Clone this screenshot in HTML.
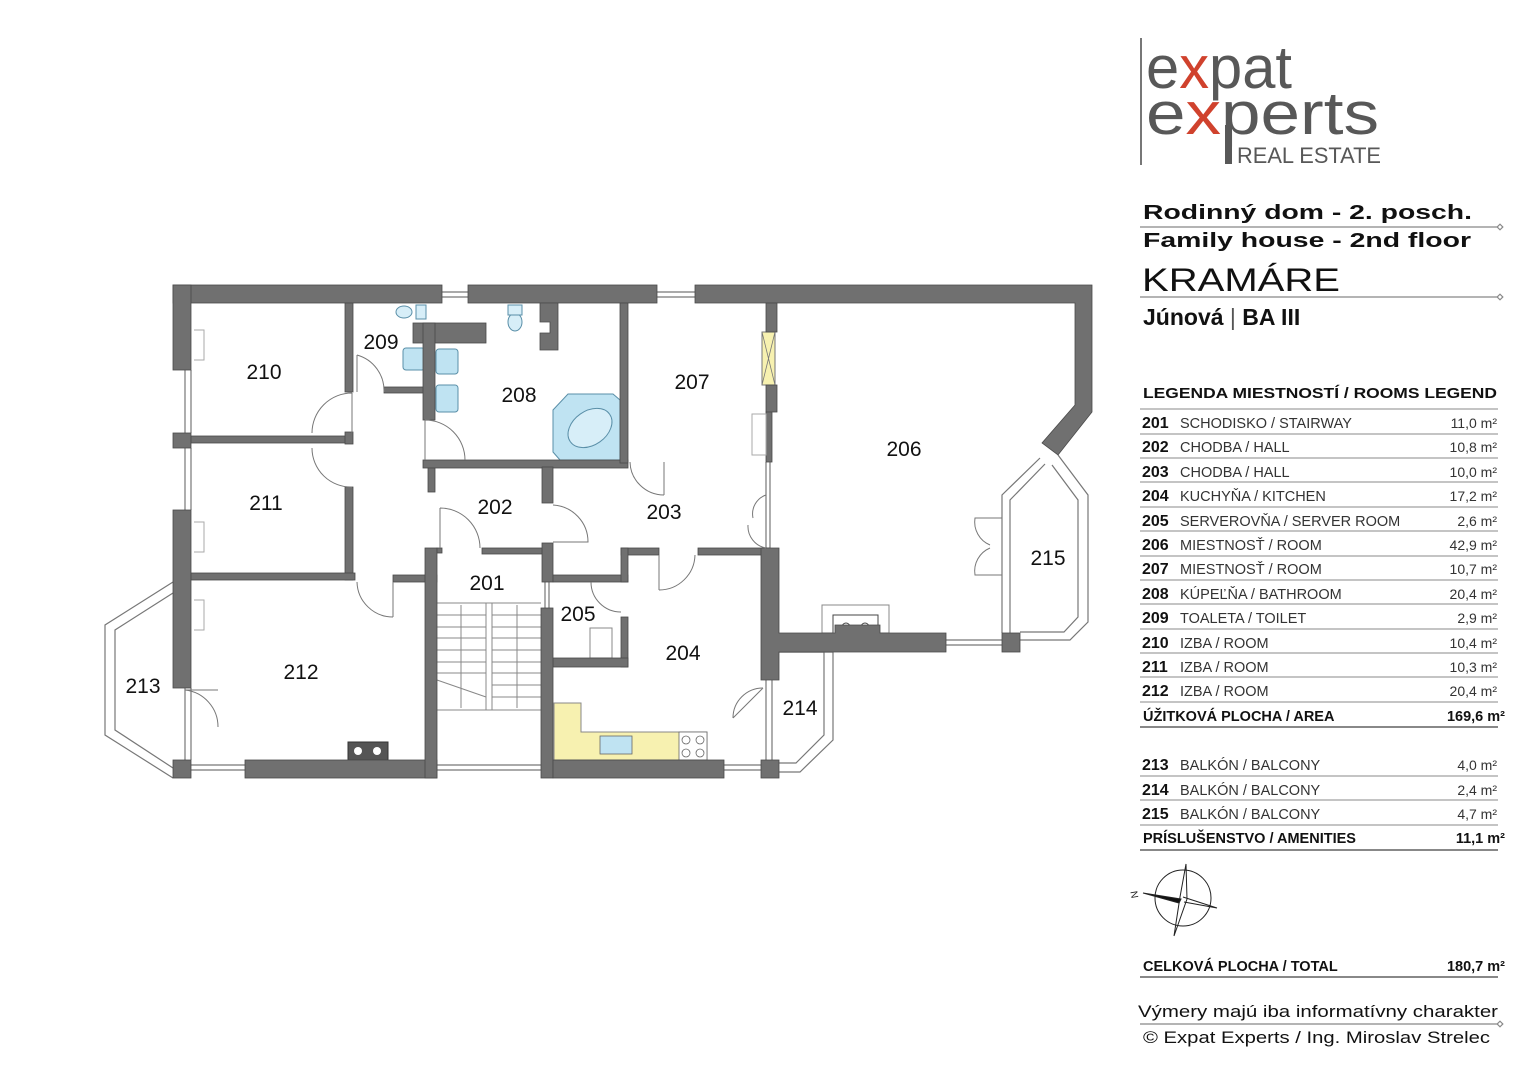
<!DOCTYPE html>
<html><head><meta charset="utf-8"><style>
html,body{margin:0;padding:0;background:#fff}
svg{display:block}
text{font-family:"Liberation Sans",sans-serif}
</style></head><body>
<svg width="1529" height="1080" viewBox="0 0 1529 1080" xmlns="http://www.w3.org/2000/svg">
<rect width="1529" height="1080" fill="#fff"/>

<g fill="none" stroke="#777" stroke-width="1.2">
<path d="M173,582 L105,625 L105,735 L173,778"/>
<path d="M173,593 L115,630 L115,730 L173,768"/>
<path d="M779,652 L833,652 L833,740 L800,772 L779,772"/>
<path d="M779,652 L824,652 L824,735 L796,763 L779,763"/>
<path d="M1020,640 L1070,640 L1088,622 L1088,495 L1058,455"/>
<path d="M1020,632 L1064,632 L1078,617 L1078,500 L1052,465"/>
<path d="M1002,633 L1002,495 L1040,458"/>
<path d="M1010,633 L1010,500 L1045,464"/>
<path d="M191,370 L191,433 M185,370 L185,433 M191,448 L191,510 M185,448 L185,510 M191,688 L191,760 M185,688 L185,760"/>
<path d="M442,292 L468,292 M442,297 L468,297 M657,292 L695,292 M657,297 L695,297"/>
<path d="M191,765 L245,765 M191,770 L245,770 M437,765 L541,765 M437,770 L541,770 M724,765 L761,765 M724,770 L761,770"/>
<path d="M946,640 L1002,640 M946,645 L1002,645"/>
<path d="M545,582 L545,608 M549,582 L549,608"/>
<path d="M766,462 L766,548 M770,462 L770,548 M766,680 L766,760 M772,680 L772,760"/>
</g>

<path d="M554,703 L581,703 L581,732 L707,732 L707,760 L554,760 Z" fill="#f7f1b0" stroke="#888" stroke-width="1"/>
<rect x="600" y="736" width="32" height="18" fill="#bfe3f2" stroke="#666" stroke-width="0.8"/>
<rect x="679" y="732" width="28" height="28" fill="#fff" stroke="#666" stroke-width="0.8"/>
<circle cx="686" cy="740" r="4" fill="none" stroke="#666" stroke-width="0.8"/><circle cx="700" cy="740" r="4" fill="none" stroke="#666" stroke-width="0.8"/>
<circle cx="686" cy="753" r="4" fill="none" stroke="#666" stroke-width="0.8"/><circle cx="700" cy="753" r="4" fill="none" stroke="#666" stroke-width="0.8"/>

<rect x="762" y="332" width="13" height="53" fill="#f7f1b0" stroke="#777" stroke-width="1"/>
<path d="M762,332 L775,385 M775,332 L762,385" stroke="#777" stroke-width="0.8"/>

<path d="M568,394 L613,394 L620,400 L620,460 L560,460 L553,452 L553,410 Z" fill="#bfe3f2" stroke="#5a8fa8" stroke-width="1"/>
<ellipse cx="590" cy="428" rx="24" ry="17" fill="#d7eef8" stroke="#5a8fa8" stroke-width="1" transform="rotate(-35 590 428)"/>
<rect x="403" y="348" width="22" height="22" rx="3" fill="#bfe3f2" stroke="#5a8fa8"/>
<rect x="436" y="349" width="22" height="25" rx="3" fill="#bfe3f2" stroke="#5a8fa8"/>
<rect x="436" y="385" width="22" height="27" rx="3" fill="#bfe3f2" stroke="#5a8fa8"/>
<ellipse cx="404" cy="312" rx="8" ry="6" fill="#d7eef8" stroke="#5a8fa8"/>
<rect x="416" y="305" width="10" height="14" fill="#d7eef8" stroke="#5a8fa8"/>
<ellipse cx="515" cy="322" rx="7" ry="9" fill="#d7eef8" stroke="#5a8fa8"/>
<rect x="508" y="305" width="14" height="10" fill="#d7eef8" stroke="#5a8fa8"/>

<rect x="822" y="605" width="67" height="28" fill="none" stroke="#888"/>
<rect x="833" y="615" width="45" height="25" fill="#fff" stroke="#444"/>
<circle cx="846" cy="627" r="4" fill="none" stroke="#444"/><circle cx="865" cy="627" r="4" fill="none" stroke="#444"/>
<rect x="348" y="742" width="40" height="18" fill="#555" stroke="#333"/>
<circle cx="358" cy="751" r="4" fill="#fff"/><circle cx="377" cy="751" r="4" fill="#fff"/>
<rect x="590" y="628" width="22" height="30" fill="none" stroke="#888"/>

<g stroke="#888" stroke-width="1" fill="none">
<path d="M437,603 L541,603 M437,615 L486,615 M492,615 L541,615 M437,627 L486,627 M492,627 L541,627 M437,638 L486,638 M492,638 L541,638 M437,650 L486,650 M492,650 L541,650 M437,662 L486,662 M492,662 L541,662 M437,673 L486,673 M492,673 L541,673 M492,685 L541,685 M492,697 L541,697 M437,710 L541,710"/>
<rect x="486" y="603" width="6" height="107"/>
<path d="M437,680 L486,697 M461,605 L461,708 M517,605 L517,708"/>
</g>

<g fill="#707070" stroke="#4a4a4a" stroke-width="0.8">
<rect x="173" y="285" width="269" height="18"/>
<rect x="468" y="285" width="189" height="18"/>
<path d="M695,285 L1092,285 L1092,412 L1058,455 L1042,443 L1075,405 L1075,303 L695,303 Z"/>
<rect x="173" y="285" width="18" height="85"/>
<rect x="173" y="433" width="18" height="15"/>
<rect x="173" y="510" width="18" height="178"/>
<rect x="173" y="760" width="18" height="18"/>
<rect x="245" y="760" width="192" height="18"/>
<rect x="191" y="436" width="161" height="7"/>
<rect x="345" y="303" width="8" height="89"/>
<rect x="345" y="432" width="8" height="12"/>
<rect x="345" y="487" width="8" height="93"/>
<rect x="191" y="573" width="164" height="7"/>
<rect x="393" y="575" width="44" height="7"/>
<rect x="425" y="548" width="12" height="230"/>
<rect x="384" y="387" width="41" height="6"/>
<rect x="413" y="323" width="73" height="20"/>
<rect x="423" y="323" width="12" height="97"/>
<rect x="423" y="460" width="205" height="8"/>
<rect x="428" y="468" width="7" height="24"/>
<path d="M540,303 L558,303 L558,350 L540,350 L540,333 L550,333 L550,322 L540,322 Z"/>
<rect x="620" y="303" width="8" height="160"/>
<rect x="766" y="303" width="11" height="29"/>
<rect x="766" y="385" width="11" height="27"/>
<rect x="766" y="412" width="6" height="50"/>
<rect x="542" y="467" width="11" height="36"/>
<rect x="542" y="543" width="11" height="39"/>
<rect x="437" y="548" width="5" height="5"/>
<rect x="482" y="548" width="60" height="6"/>
<rect x="621" y="548" width="38" height="7"/>
<rect x="698" y="548" width="72" height="7"/>
<rect x="553" y="575" width="75" height="7"/>
<rect x="621" y="548" width="7" height="34"/>
<rect x="621" y="617" width="7" height="50"/>
<rect x="553" y="658" width="75" height="9"/>
<rect x="541" y="608" width="12" height="170"/>
<rect x="553" y="760" width="171" height="18"/>
<rect x="761" y="760" width="18" height="18"/>
<path d="M761,548 L779,548 L779,633 L835,633 L835,625 L880,625 L880,633 L946,633 L946,652 L779,652 L779,680 L761,680 Z"/>
<rect x="1002" y="633" width="18" height="19"/>
</g>

<g fill="none" stroke="#777" stroke-width="1">
<path d="M312,433 A40,40 0 0 1 352,393 M352,393 L352,433"/>
<path d="M312,448 A39,39 0 0 0 352,487"/>
<path d="M357,355 L357,392 M357,355 A37,37 0 0 1 384,392"/>
<path d="M425,420 L425,460 M425,420 A40,40 0 0 1 465,460"/>
<path d="M393,582 L393,617 M393,617 A36,36 0 0 1 357,582"/>
<path d="M440,508 L440,548 M440,508 A40,40 0 0 1 480,548"/>
<path d="M553,505 A37,37 0 0 1 588,542 L553,542"/>
<path d="M664,462 L664,495 M664,495 A34,34 0 0 1 630,462"/>
<path d="M659,555 L659,590 M659,590 A36,36 0 0 0 695,555"/>
<path d="M591,582 A30,30 0 0 0 621,612"/>
<path d="M763,688 L733,718 M733,718 A30,30 0 0 1 763,688"/>
<path d="M185,690 L218,690 M218,727 A37,37 0 0 0 185,690"/>
<path d="M766,495 A20,20 0 0 0 753,518 M766,548 A22,22 0 0 1 748,525"/>
<path d="M1002,518 L975,518 A25,25 0 0 0 990,545 M1002,575 L975,575 A25,25 0 0 1 990,548"/>
<path d="M752,414 L766,414 L766,455 L752,455 Z M194,330 L204,330 L204,360 L194,360 M194,522 L204,522 L204,552 L194,552 M194,600 L204,600 L204,630 L194,630" stroke="#aaa"/>
</g>

<g font-size="21" fill="#111" text-anchor="middle">
<text x="264" y="379">210</text>
<text x="266" y="510">211</text>
<text x="301" y="679">212</text>
<text x="143" y="693">213</text>
<text x="381" y="349">209</text>
<text x="519" y="402">208</text>
<text x="692" y="389">207</text>
<text x="904" y="456">206</text>
<text x="495" y="514">202</text>
<text x="664" y="519">203</text>
<text x="487" y="590">201</text>
<text x="578" y="621">205</text>
<text x="683" y="660">204</text>
<text x="800" y="715">214</text>
<text x="1048" y="565">215</text>
</g>

<rect x="1140" y="38" width="2" height="127" fill="#777"/>
<text x="1146" y="88" font-size="60" fill="#585858" textLength="146" lengthAdjust="spacingAndGlyphs">e<tspan fill="#d0422d">x</tspan>pat</text>
<text x="1146" y="134" font-size="60" fill="#585858" textLength="233" lengthAdjust="spacingAndGlyphs">e<tspan fill="#d0422d">x</tspan>perts</text>
<rect x="1225" y="125" width="7" height="39" fill="#585858"/>
<text x="1237" y="163" font-size="22" fill="#585858" textLength="144" lengthAdjust="spacingAndGlyphs">REAL ESTATE</text>

<g fill="#111">
<text x="1143" y="219" font-size="20" font-weight="bold" textLength="329" lengthAdjust="spacingAndGlyphs">Rodinný dom - 2. posch.</text>
<text x="1143" y="247" font-size="20" font-weight="bold" textLength="328" lengthAdjust="spacingAndGlyphs">Family house - 2nd floor</text>
<text x="1142" y="291" font-size="32" textLength="198" lengthAdjust="spacingAndGlyphs">KRAMÁRE</text>
<text x="1143" y="325" font-size="23" font-weight="bold">Júnová <tspan font-weight="normal" fill="#555">|</tspan> BA III</text>
</g>
<g stroke="#888" stroke-width="1.2" fill="#fff">
<line x1="1140" y1="227" x2="1497" y2="227"/><rect x="1498" y="225" width="4" height="4" transform="rotate(45 1500 227)"/>
<line x1="1140" y1="297" x2="1497" y2="297"/><rect x="1498" y="295" width="4" height="4" transform="rotate(45 1500 297)"/>
<line x1="1140" y1="1024" x2="1497" y2="1024"/><rect x="1498" y="1022" width="4" height="4" transform="rotate(45 1500 1024)"/>
</g>

<g fill="#111">
<text x="1143" y="398" font-size="15" font-weight="bold" textLength="354" lengthAdjust="spacingAndGlyphs">LEGENDA MIESTNOSTÍ / ROOMS LEGEND</text>
</g>
<g font-size="16" fill="#111">
<g font-weight="bold"><text x="1142" y="428">201</text><text x="1142" y="452">202</text><text x="1142" y="477">203</text><text x="1142" y="501">204</text><text x="1142" y="526">205</text><text x="1142" y="550">206</text><text x="1142" y="574">207</text><text x="1142" y="599">208</text><text x="1142" y="623">209</text><text x="1142" y="648">210</text><text x="1142" y="672">211</text><text x="1142" y="696">212</text><text x="1142" y="770">213</text><text x="1142" y="795">214</text><text x="1142" y="819">215</text></g>
<g font-size="14.5" fill="#333">
<text x="1180" y="428">SCHODISKO / STAIRWAY</text><text x="1180" y="452">CHODBA / HALL</text><text x="1180" y="477">CHODBA / HALL</text><text x="1180" y="501">KUCHYŇA / KITCHEN</text><text x="1180" y="526">SERVEROVŇA / SERVER ROOM</text><text x="1180" y="550">MIESTNOSŤ / ROOM</text><text x="1180" y="574">MIESTNOSŤ / ROOM</text><text x="1180" y="599">KÚPEĽŇA / BATHROOM</text><text x="1180" y="623">TOALETA / TOILET</text><text x="1180" y="648">IZBA / ROOM</text><text x="1180" y="672">IZBA / ROOM</text><text x="1180" y="696">IZBA / ROOM</text><text x="1180" y="770">BALKÓN / BALCONY</text><text x="1180" y="795">BALKÓN / BALCONY</text><text x="1180" y="819">BALKÓN / BALCONY</text>
</g>
<g font-size="14" fill="#333" text-anchor="end">
<text x="1497" y="428">11,0 m²</text><text x="1497" y="452">10,8 m²</text><text x="1497" y="477">10,0 m²</text><text x="1497" y="501">17,2 m²</text><text x="1497" y="526">2,6 m²</text><text x="1497" y="550">42,9 m²</text><text x="1497" y="574">10,7 m²</text><text x="1497" y="599">20,4 m²</text><text x="1497" y="623">2,9 m²</text><text x="1497" y="648">10,4 m²</text><text x="1497" y="672">10,3 m²</text><text x="1497" y="696">20,4 m²</text><text x="1497" y="770">4,0 m²</text><text x="1497" y="795">2,4 m²</text><text x="1497" y="819">4,7 m²</text>
</g>
<g font-weight="bold" font-size="14.5">
<text x="1143" y="721">ÚŽITKOVÁ PLOCHA / AREA</text><text x="1505" y="721" text-anchor="end">169,6 m²</text>
<text x="1143" y="843">PRÍSLUŠENSTVO / AMENITIES</text><text x="1505" y="843" text-anchor="end">11,1 m²</text>
<text x="1143" y="971">CELKOVÁ PLOCHA / TOTAL</text><text x="1505" y="971" text-anchor="end">180,7 m²</text>
</g>
</g>
<g stroke="#888" stroke-width="1">
<line x1="1140" y1="409" x2="1498" y2="409"/><line x1="1140" y1="434" x2="1498" y2="434"/><line x1="1140" y1="458" x2="1498" y2="458"/><line x1="1140" y1="482" x2="1498" y2="482"/><line x1="1140" y1="507" x2="1498" y2="507"/><line x1="1140" y1="531" x2="1498" y2="531"/><line x1="1140" y1="556" x2="1498" y2="556"/><line x1="1140" y1="580" x2="1498" y2="580"/><line x1="1140" y1="604" x2="1498" y2="604"/><line x1="1140" y1="629" x2="1498" y2="629"/><line x1="1140" y1="653" x2="1498" y2="653"/><line x1="1140" y1="677" x2="1498" y2="677"/><line x1="1140" y1="702" x2="1498" y2="702"/>
<line x1="1140" y1="727" x2="1498" y2="727" stroke-width="2"/>
<line x1="1140" y1="776" x2="1498" y2="776"/><line x1="1140" y1="800" x2="1498" y2="800"/><line x1="1140" y1="825" x2="1498" y2="825"/>
<line x1="1140" y1="850" x2="1498" y2="850" stroke-width="2"/>
<line x1="1140" y1="977" x2="1498" y2="977" stroke-width="2"/>
</g>

<g stroke="#222" stroke-width="1" fill="none">
<circle cx="1183" cy="898" r="28"/>
<path d="M1186,864 L1180,897 L1174,936 L1187,899 Z"/>
<path d="M1183,897 L1217,908 L1184,902" />
<path d="M1143,893 L1181,899 L1179,903 Z" fill="#111"/>
<text x="1130" y="898" font-size="10" fill="#222" stroke="none" transform="rotate(80 1134 895)">N</text>
</g>

<text x="1138" y="1017" font-size="17" fill="#111" textLength="360" lengthAdjust="spacingAndGlyphs">Výmery majú iba informatívny charakter</text>
<text x="1143" y="1043" font-size="17" fill="#111" textLength="347" lengthAdjust="spacingAndGlyphs">© Expat Experts / Ing. Miroslav Strelec</text>
</svg>
</body></html>
